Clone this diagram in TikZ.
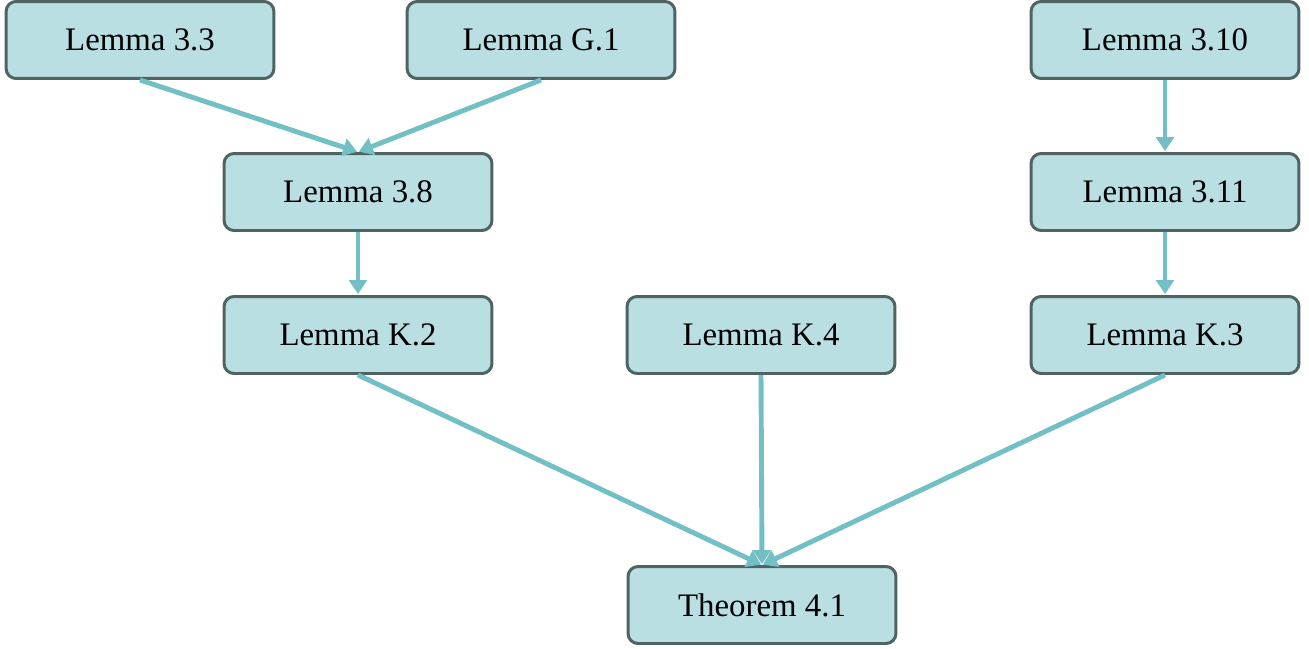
\documentclass[tikz,border=0pt]{standalone}
\usepackage{fontspec}
\setmainfont{Liberation Serif}
\usetikzlibrary{arrows.meta}
\definecolor{boxfill}{HTML}{B9DFE3}
\definecolor{boxline}{HTML}{4F6363}
\definecolor{arrowcol}{HTML}{72C0C6}
\tikzset{
    lemma/.style={draw=boxline, fill=boxfill, line width=1.7pt, rounded corners=0.2cm,
        minimum width=5.36cm, minimum height=1.54cm, font=\fontsize{18.7}{22}\selectfont},
    dep/.style={arrowcol, line width=2.8pt, -{Triangle[length=8pt,width=10pt]}, shorten >=0.5pt}
}
\begin{document}
\begin{tikzpicture}[x=0.02cm,y=-0.02cm]
    \useasboundingbox (0,0) rectangle (1309,649);

    \node[lemma] (l33) at (140,40) {Lemma 3.3};
    \node[lemma] (lg1) at (541,40) {Lemma G.1};
    \node[lemma] (l310) at (1165,40) {Lemma 3.10};
    \node[lemma] (l38) at (358,192) {Lemma 3.8};
    \node[lemma] (l311) at (1165,192) {Lemma 3.11};
    \node[lemma] (lk2) at (358,335) {Lemma K.2};
    \node[lemma] (lk4) at (761,335) {Lemma K.4};
    \node[lemma] (lk3) at (1165,335) {Lemma K.3};
    \node[lemma] (thm) at (762,605) {Theorem 4.1};

    \draw[dep] (l33.south) -- (l38.north);
    \draw[dep] (lg1.south) -- (l38.north);
    \draw[dep] (l38.south) -- (lk2.north);
    \draw[dep] (l310.south) -- (l311.north);
    \draw[dep] (l311.south) -- (lk3.north);
    \foreach \src in {lk2,lk4,lk3} \draw[dep] (\src.south) -- (thm.north);

\end{tikzpicture}
\end{document}
